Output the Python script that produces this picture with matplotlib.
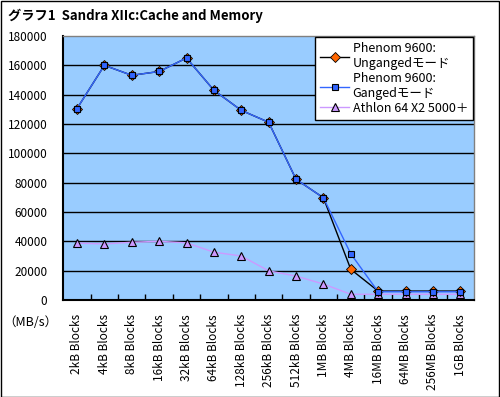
import matplotlib
matplotlib.use("Agg")
import matplotlib.pyplot as plt
from matplotlib.patches import Rectangle

plt.rcParams['font.family'] = ['Noto Sans CJK JP', 'DejaVu Sans']

categories = ["2kB Blocks", "4kB Blocks", "8kB Blocks", "16kB Blocks", "32kB Blocks",
              "64kB Blocks", "128kB Blocks", "256kB Blocks", "512kB Blocks", "1MB Blocks",
              "4MB Blocks", "16MB Blocks", "64MB Blocks", "256MB Blocks", "1GB Blocks"]
unganged = [130500, 160000, 153200, 155800, 165000, 143000, 129300, 121200, 82300,
            69700, 20900, 6100, 6100, 6100, 6100]
ganged = [130500, 160000, 153200, 155800, 165000, 143000, 129300, 121200, 82300,
          69700, 31500, 5600, 5600, 5600, 5600]
athlon = [38800, 38200, 39400, 40000, 39000, 32600, 30000, 19900, 16300,
          10900, 3900, 3900, 3900, 3900, 3900]
yticks = [0, 20000, 40000, 60000, 80000, 100000, 120000, 140000, 160000, 180000]
labels = ["Phenom 9600:\nUngangedモード", "Phenom 9600:\nGangedモード", "Athlon 64 X2 5000＋"]
title = "グラフ1  Sandra XIIc:Cache and Memory"
unit = "（MB/s）"

fig = plt.figure(figsize=(5.0, 3.97), dpi=100)
fig.patch.set_facecolor("white")
fig.patches.append(Rectangle((0.001, 0.001), 0.997, 0.996, transform=fig.transFigure,
                             fill=False, edgecolor="black", linewidth=1.0))

ax = fig.add_axes([63.3/500, 1-300/397, (474-63.3)/500, (300-36)/397])
ax.set_facecolor("#99CCFF")
x = list(range(len(categories)))

ax.plot(x, athlon, color="#CC99FF", linewidth=1.0, marker="^", markersize=5.5,
        markerfacecolor="#CC99FF", markeredgecolor="black", markeredgewidth=0.8,
        label=labels[2], zorder=3)
ax.plot(x, unganged, color="black", linewidth=1.0, marker="D", markersize=5,
        markerfacecolor="#FF6600", markeredgecolor="black", markeredgewidth=0.6,
        label=labels[0], zorder=4)
ax.plot(x, ganged, color="#3366FF", linewidth=1.0, marker="s", markersize=5,
        markerfacecolor="#3366FF", markeredgecolor="black", markeredgewidth=0.8,
        label=labels[1], zorder=5)

ax.set_xlim(-0.5, len(categories) - 0.5)
ax.set_ylim(0, 180000)
ax.set_yticks(yticks)
ax.set_yticklabels([str(v) for v in yticks], fontsize=8.5)
for v in yticks[1:-1]:
    ax.axhline(v, color="black", linewidth=1.0, zorder=1)

ax.set_xticks(x)
ax.set_xticklabels(categories, rotation=90, fontsize=8.5, va="top")
ax.tick_params(axis="x", length=0, pad=10)
ax.set_xticks([i + 0.5 for i in x[:-1]], minor=True)
ax.tick_params(axis="x", which="minor", direction="in", length=4, width=1, color="black")
ax.tick_params(axis="y", length=0, pad=11.5)

for s in ["top", "right"]:
    ax.spines[s].set_color("#808080")
    ax.spines[s].set_linewidth(1.0)
for s in ["left", "bottom"]:
    ax.spines[s].set_color("black")
    ax.spines[s].set_linewidth(1.5)

fig.text(8/500, 1-16/397, title, fontsize=9.5, fontweight="bold", va="center", ha="left")
fig.text(30/500, 1-322/397, unit, fontsize=9, va="center", ha="center")

handles, labs = ax.get_legend_handles_labels()
order = [1, 2, 0]
leg = ax.legend([handles[i] for i in order], [labs[i] for i in order],
                loc="upper right", bbox_to_anchor=(473/500, 1-37/397),
                bbox_transform=fig.transFigure, fontsize=9, frameon=True,
                fancybox=False, framealpha=1, edgecolor="black", borderpad=0.4,
                handlelength=2.3, handletextpad=0.3, labelspacing=0.15, borderaxespad=0)
leg.get_frame().set_linewidth(1.0)

fig.savefig("out.png", dpi=100)
